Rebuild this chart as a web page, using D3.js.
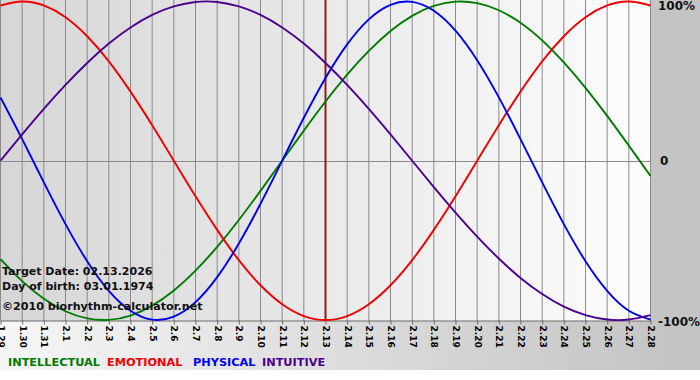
<!DOCTYPE html>
<html>
<head>
<meta charset="utf-8">
<script src="https://cdn.jsdelivr.net/npm/d3@7/dist/d3.min.js"></script>
<style>
  html, body { margin: 0; padding: 0; background: #ffffff; }
  svg { display: block; }
  text { font-family: "DejaVu Sans", Verdana, sans-serif; font-weight: bold; }
</style>
</head>
<body>
<svg id="chart" width="700" height="380"></svg>
<script>
// ---- data ----
const dates = ["1.29","1.30","1.31","2.1","2.2","2.3","2.4","2.5","2.6","2.7","2.8","2.9","2.10","2.11","2.12","2.13","2.14","2.15","2.16","2.17","2.18","2.19","2.20","2.21","2.22","2.23","2.24","2.25","2.26","2.27","2.28"];
const intellectual = [-61.8,-75.6,-86.6,-94.5,-99.0,-99.9,-97.2,-91.0,-81.5,-69.0,-54.1,-37.2,-18.9,0,18.9,37.2,54.1,69.0,81.5,91.0,97.2,99.9,99.0,94.5,86.6,75.6,61.8,45.8,28.2,9.5,-9.5];
const emotional    = [97.5,100,97.5,90.1,78.2,62.4,43.4,22.3,0,-22.3,-43.4,-62.4,-78.2,-90.1,-97.5,-100,-97.5,-90.1,-78.2,-62.4,-43.4,-22.3,0,22.3,43.4,62.4,78.2,90.1,97.5,100,97.5];
const physical     = [39.8,13.6,-13.6,-39.8,-63.1,-81.7,-94.2,-99.8,-97.9,-88.8,-73.1,-52.0,-27.0,0,27.0,52.0,73.1,88.8,97.9,99.8,94.2,81.7,63.1,39.8,13.6,-13.6,-39.8,-63.1,-81.7,-94.2,-99.8];
const intuitive    = [0,16.5,32.5,47.6,61.4,73.6,83.7,91.6,96.9,99.7,99.7,96.9,91.6,83.7,73.6,61.4,47.6,32.5,16.5,0,-16.5,-32.5,-47.6,-61.4,-73.6,-83.7,-91.6,-96.9,-99.7,-99.7,-96.9];
const targetDate = "2.13";
const yTicks = [100, 0, -100];
const yTickLabels = ["100%", "0", "-100%"];
const legendNames = ["INTELLECTUAL", "EMOTIONAL", "PHYSICAL", "INTUITIVE"];
const infoLines = ["Target Date: 02.13.2026", "Day of birth: 03.01.1974", "\u00A92010 biorhythm-calculator.net"];

// ---- layout ----
const W = 700, plotW = 650, plotH = 321, frameH = 370;
const colors = ["#007a00", "#f00000", "#0000f0", "#4b0090"];
const series = [intellectual, emotional, physical, intuitive];
const legendX = [8, 107, 193, 262];

const svg = d3.select("#chart");
const defs = svg.append("defs");

const gOuter = defs.append("linearGradient").attr("id", "outerGrad").attr("x1", "0").attr("x2", "1").attr("y1", "0").attr("y2", "0");
gOuter.append("stop").attr("offset", "0").attr("stop-color", "#f6f6f6");
gOuter.append("stop").attr("offset", "1").attr("stop-color", "#c2c2c2");

const gPlot = defs.append("linearGradient").attr("id", "plotGrad").attr("x1", "0").attr("x2", "1").attr("y1", "0").attr("y2", "0");
gPlot.append("stop").attr("offset", "0").attr("stop-color", "#d6d6d6");
gPlot.append("stop").attr("offset", "1").attr("stop-color", "#fdfdfd");

defs.append("clipPath").attr("id", "plotClip").append("rect")
  .attr("x", 0).attr("y", 0).attr("width", plotW + 1).attr("height", plotH);

svg.append("rect").attr("x", 0).attr("y", 0).attr("width", W).attr("height", frameH).attr("fill", "url(#outerGrad)");
svg.append("rect").attr("x", 651).attr("y", 0).attr("width", W - 651).attr("height", plotH).attr("fill", "#c4c4c4");
svg.append("rect").attr("x", 0).attr("y", 0).attr("width", plotW + 1).attr("height", plotH).attr("fill", "url(#plotGrad)");

const x = d3.scalePoint().domain(dates).range([0.5, plotW + 0.5]);
const y = d3.scaleLinear().domain([-100, 100]).range([320, 1.5]);

// vertical grid lines
svg.append("g").selectAll("line").data(dates).join("line")
  .attr("x1", d => x(d)).attr("x2", d => x(d))
  .attr("y1", 0).attr("y2", plotH)
  .attr("stroke", "#8a8a8a").attr("stroke-width", 1);

// zero line
svg.append("line")
  .attr("x1", 0).attr("x2", plotW + 1)
  .attr("y1", Math.round(y(0)) + 0.5).attr("y2", Math.round(y(0)) + 0.5)
  .attr("stroke", "#8a8a8a").attr("stroke-width", 1);

// bottom axis
const xAxis = d3.axisBottom(x).tickSize(4).tickSizeOuter(0);
const ax = svg.append("g").attr("transform", `translate(0,${plotH - 0.5})`).call(xAxis);
ax.select(".domain").attr("stroke", "#6a6a6a");
ax.selectAll(".tick line").attr("stroke", "#6a6a6a");
ax.selectAll(".tick text")
  .attr("font-size", 9).attr("font-family", "'DejaVu Sans', Verdana, sans-serif").attr("font-weight", "bold")
  .attr("fill", "#000")
  .attr("text-anchor", "start")
  .attr("transform", "rotate(90)")
  .attr("x", 5).attr("y", 0).attr("dy", "0.35em");

// right axis labels
const yAxis = d3.axisRight(y).tickValues(yTicks).tickSize(0).tickFormat((d, i) => yTickLabels[i]);
const ay = svg.append("g").attr("transform", `translate(${plotW + 6},0)`).call(yAxis);
ay.select(".domain").remove();
ay.selectAll(".tick text")
  .attr("font-size", 12).attr("font-family", "'DejaVu Sans', Verdana, sans-serif").attr("font-weight", "bold")
  .attr("fill", "#111").attr("x", 2);
ay.selectAll(".tick").filter(d => d === 100).select("text").attr("dy", "0.65em");
ay.selectAll(".tick").filter(d => d === 0).select("text").attr("x", 4);
ay.selectAll(".tick").filter(d => d === -100).select("text").attr("dy", "0.45em");

// target date line
svg.append("line")
  .attr("x1", x(targetDate)).attr("x2", x(targetDate))
  .attr("y1", 0).attr("y2", plotH)
  .attr("stroke", "#8a1c1c").attr("stroke-width", 2);

// curves
const line = d3.line().x((d, i) => x(dates[i])).y(d => y(d)).curve(d3.curveNatural);
const gCurves = svg.append("g").attr("clip-path", "url(#plotClip)");
series.forEach((s, k) => {
  gCurves.append("path").datum(s).attr("d", line)
    .attr("fill", "none").attr("stroke", colors[k]).attr("stroke-width", 1.9);
});

// info text
const infoY = [275, 290, 310];
svg.append("g").selectAll("text").data(infoLines).join("text")
  .attr("x", 2).attr("y", (d, i) => infoY[i])
  .attr("font-size", (d, i) => i === 2 ? 11.1 : 11)
  .attr("fill", "#111")
  .text(d => d);

// legend
svg.append("g").selectAll("text").data(legendNames).join("text")
  .attr("x", (d, i) => legendX[i]).attr("y", 366)
  .attr("font-size", 11.3)
  .attr("fill", (d, i) => colors[i])
  .text(d => d);
</script>
</body>
</html>
